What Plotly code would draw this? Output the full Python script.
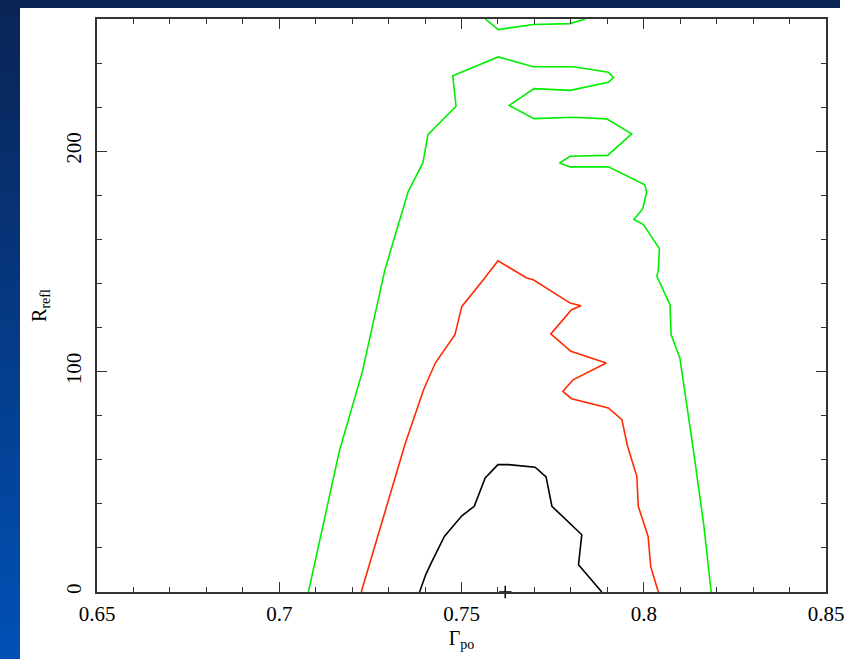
import plotly.graph_objects as go

# ---- data ----
black_x = [0.7385, 0.7402, 0.7419, 0.7453, 0.7501, 0.7535, 0.7565, 0.7600, 0.7629,
           0.7702, 0.7732, 0.7748, 0.7830, 0.7821, 0.7885]
black_y = [0, 7.9, 13.9, 25.2, 34.6, 38.9, 51.7, 57.8, 57.8,
           56.6, 52.2, 38.9, 26.0, 12.4, 0]

red_x = [0.7225, 0.7268, 0.7300, 0.7345, 0.7396, 0.7428, 0.7482, 0.7501, 0.7560, 0.7600,
         0.7679, 0.7697, 0.7798, 0.7828, 0.7802, 0.7745, 0.7800, 0.7897, 0.7806, 0.7778,
         0.7802, 0.7903, 0.7940, 0.7955, 0.7981, 0.7985, 0.8012, 0.8019, 0.8040]
red_y = [0, 23.7, 41.9, 67.0, 91.8, 103.9, 116.8, 129.6, 141.7, 150.3,
         142.5, 141.7, 131.1, 129.9, 128.1, 117.1, 109.2, 103.9, 96.3, 91.0,
         87.7, 83.5, 78.2, 66.5, 52.5, 38.9, 25.2, 11.6, 0]

green_x = [0.7080, 0.7165, 0.7228, 0.7290, 0.7354, 0.7394, 0.7408, 0.7485, 0.7476, 0.7601,
           0.7697, 0.7807, 0.7903, 0.7917, 0.7903, 0.7798, 0.7699, 0.7631, 0.7699, 0.7807,
           0.7898, 0.7967, 0.7901, 0.7798, 0.7769, 0.7798, 0.7903, 0.8003, 0.8008, 0.7997,
           0.7973, 0.7999, 0.8043, 0.8040, 0.8036, 0.8072, 0.8075, 0.8099, 0.8136, 0.8165,
           0.8185]
green_y = [0, 64, 100, 146.3, 181.8, 194.7, 207.5, 220.4, 234.3, 242.8,
           238.3, 238.3, 235.8, 233.5, 231.3, 227.6, 228.4, 220.8, 214.8, 215.4,
           214.7, 207.9, 198.1, 197.7, 194.7, 192.9, 192.9, 184.8, 181.4, 173.8,
           169.0, 166.7, 155.8, 146.3, 143.2, 130.4, 116.8, 106.2, 64.6, 30,
           0]

green_top_x = [0.7565, 0.7601, 0.7697, 0.7798, 0.7839]
green_top_y = [260, 255.2, 257.5, 257.9, 260]

marker_x = [0.7620]
marker_y = [0]

x_range = [0.65, 0.85]
y_range = [0, 260]

# ---- figure ----
W, H = 855, 659
ML, MR, MT, MB = 97, 29, 19, 67
PW, PH = W - ML - MR, H - MT - MB


def px2paper_x(px):
    return (px - ML) / PW


def px2paper_y(py):
    return (H - MB - py) / PH


fig = go.Figure()
lw = 1.6
fig.add_trace(go.Scatter(x=green_x, y=green_y, mode="lines",
                         line=dict(color="#00ee00", width=lw), showlegend=False))
fig.add_trace(go.Scatter(x=green_top_x, y=green_top_y, mode="lines",
                         line=dict(color="#00ee00", width=lw), showlegend=False))
fig.add_trace(go.Scatter(x=red_x, y=red_y, mode="lines",
                         line=dict(color="#ff2a00", width=lw), showlegend=False))
fig.add_trace(go.Scatter(x=black_x, y=black_y, mode="lines",
                         line=dict(color="black", width=lw), showlegend=False))
fig.add_trace(go.Scatter(x=marker_x, y=marker_y, mode="markers", cliponaxis=False,
                         marker=dict(symbol="cross-thin", size=9,
                                     line=dict(color="black", width=1.5)),
                         showlegend=False))

# slide background bands (decoration)
shapes = []
n = 60
c0 = (0x0a, 0x24, 0x55)
c1 = (0x00, 0x50, 0xb6)
for i in range(n):
    t = i / (n - 1)
    c = tuple(int(round(a + (b - a) * t)) for a, b in zip(c0, c1))
    y0 = H * i / n
    y1 = H * (i + 1) / n + 3
    shapes.append(dict(type="rect", xref="paper", yref="paper", layer="below",
                       x0=px2paper_x(-2), x1=px2paper_x(20),
                       y0=px2paper_y(y0), y1=px2paper_y(y1),
                       fillcolor="rgb(%d,%d,%d)" % c, line=dict(width=0)))
shapes.append(dict(type="rect", xref="paper", yref="paper", layer="below",
                   x0=px2paper_x(-2), x1=px2paper_x(840), y0=px2paper_y(-2), y1=px2paper_y(8),
                   fillcolor="#0a2455", line=dict(width=0)))

font_family = "Liberation Serif"
axis_common = dict(
    showgrid=False, zeroline=False, showline=True, linecolor="#333", linewidth=1.5,
    mirror="allticks", ticks="inside", ticklen=10, tickwidth=1.2, tickcolor="#333",
    tickfont=dict(family=font_family, size=21, color="black"),
)

fig.update_layout(
    width=W, height=H,
    margin=dict(l=ML, r=MR, t=MT, b=MB),
    paper_bgcolor="white", plot_bgcolor="white",
    shapes=shapes,
    xaxis=dict(range=x_range, tickvals=[0.65, 0.7, 0.75, 0.8, 0.85],
               ticktext=["0.65", "0.7", "0.75", "0.8", "0.85"],
               ticklabelstandoff=2,
               minor=dict(ticks="inside", ticklen=5, dtick=0.01, tickcolor="#333", tickwidth=1.2),
               title=dict(text="Γ<sub>po</sub>", font=dict(family=font_family, size=20, color="black"),
                          standoff=6),
               **axis_common),
    yaxis=dict(range=y_range, tickvals=[0, 100, 200], tickangle=-90,
               ticklabelstandoff=6,
               minor=dict(ticks="inside", ticklen=5, dtick=20, tickcolor="#333", tickwidth=1.2),
               title=dict(text="R<sub>refl</sub>", font=dict(family=font_family, size=20, color="black"),
                          standoff=10),
               **axis_common),
)

fig.write_html("out.html")
